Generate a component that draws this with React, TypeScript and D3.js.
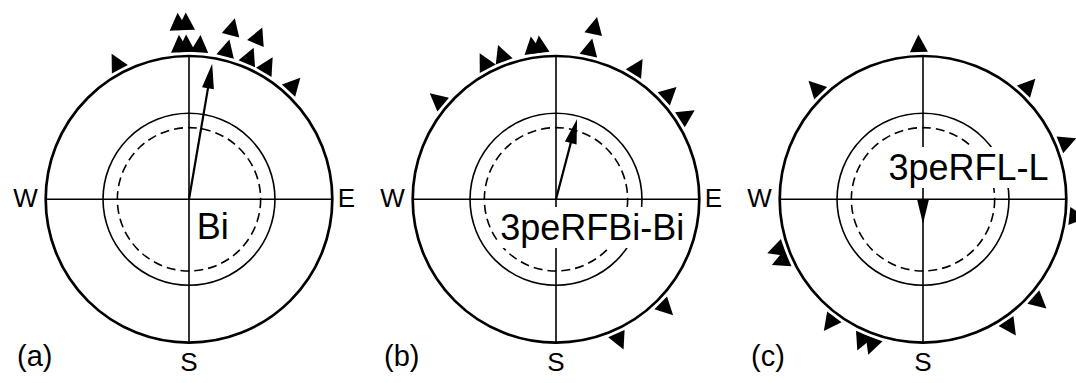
import React, { useEffect, useRef } from "react";
import * as d3 from "d3";

// panel tags and sample names
const panelTags = ["(a)", "(b)", "(c)"];
const sampleNames = ["Bi", "3peRFBi-Bi", "3peRFL-L"];

const bearingsA = [-28, -3.5, -3.5, -1, -1, 4, 14.2, 14.2, 23.1, 23.1, 30.5, 42.5];
const bearingsB = [-50, -27.6, -20.6, -8.8, -6, 12.7, 12.7, 31.7, 47, 57.3, 134.7, 155.8];
const bearingsC = [-1.6, -44, 43, 68.3, 96.5, 131.5, 145.7, 199.4, 203.5, 217, 246.5, 250.9];

// mean vector: direction (deg) and resultant length (0..1)
const meanDirections = [9.7, 14.7, 180];
const meanLengths = [0.96, 0.58, 0.17];

// reference rings (fraction of outer radius)
const solidRing = 0.6;
const dashedRing = 0.5;

const compassLabels = ["W", "E", "S"];

// layout
const width = 1076;
const height = 383;
const R = 143.3;
const cy = 199.3;
const nameOffsets = [
  [7.7, 40],
  [-55.8, 40.7],
  [-34.5, -19.3],
];

const App = () => {
  const svgRef = useRef(null);

  useEffect(() => {
    const svg = d3.select(svgRef.current);
    svg.selectAll("*").remove();

    const xPanel = d3.scalePoint().domain(panelTags).range([189, 923]);
    const rScale = d3.scaleLinear().domain([0, 1]).range([0, R]);
    const allBearings = [bearingsA, bearingsB, bearingsC];
    const font = "'Liberation Sans', Arial, Helvetica, sans-serif";

    panelTags.forEach((tag, i) => {
      const cx = xPanel(tag);
      const g = svg.append("g").attr("transform", `translate(${cx},${cy})`);

      // outer circle
      g.append("circle")
        .attr("r", rScale(1))
        .attr("fill", "none")
        .attr("stroke", "#000")
        .attr("stroke-width", 2.7);

      // crosshair
      g.append("line")
        .attr("x1", -rScale(1)).attr("x2", rScale(1))
        .attr("y1", 0).attr("y2", 0)
        .attr("stroke", "#000").attr("stroke-width", 1.6);
      g.append("line")
        .attr("x1", 0).attr("x2", 0)
        .attr("y1", -rScale(1)).attr("y2", rScale(1))
        .attr("stroke", "#000").attr("stroke-width", 1.6);

      // rings
      g.append("circle")
        .attr("r", rScale(solidRing))
        .attr("fill", "none")
        .attr("stroke", "#000")
        .attr("stroke-width", 1.6);
      g.append("circle")
        .attr("r", rScale(dashedRing))
        .attr("fill", "none")
        .attr("stroke", "#000")
        .attr("stroke-width", 1.6)
        .attr("stroke-dasharray", "9,5");

      // sample name with white box behind it
      const [ndx, ndy] = nameOffsets[i];
      const boxLayer = g.append("g");
      const name = g.append("text")
        .attr("x", ndx)
        .attr("y", ndy)
        .attr("font-family", font)
        .attr("font-size", 36)
        .attr("fill", "#000")
        .text(sampleNames[i]);
      const bb = name.node().getBBox();
      boxLayer.append("rect")
        .attr("x", bb.x - 2)
        .attr("y", bb.y)
        .attr("width", bb.width + 4)
        .attr("height", bb.height)
        .attr("fill", "#fff");

      // mean vector arrow
      const len = rScale(meanLengths[i]);
      const headLen = Math.min(25, len);
      const arrow = g.append("g").attr("transform", `rotate(${meanDirections[i]})`);
      if (len - headLen > 0) {
        arrow.append("line")
          .attr("x1", 0).attr("y1", 0)
          .attr("x2", 0).attr("y2", -(len - headLen + 2))
          .attr("stroke", "#000").attr("stroke-width", 2.2);
      }
      arrow.append("path")
        .attr("d", `M0,${-len} L6,${-(len - headLen)} L-6,${-(len - headLen)} Z`)
        .attr("fill", "#000");

      // observation triangles, stacked outward when bearings repeat
      const bearings = allBearings[i];
      const stackIndex = bearings.map((b, k) => bearings.slice(0, k).filter((o) => o === b).length);
      g.selectAll("path.obs")
        .data(bearings)
        .join("path")
        .attr("class", "obs")
        .attr("transform", (d) => `rotate(${d})`)
        .attr("d", (d, k) => {
          const rb = rScale(1) + 4 + stackIndex[k] * 22;
          return `M-9,${-rb} L9,${-rb} L0,${-(rb + 17.5)} Z`;
        })
        .attr("fill", "#000");

      // compass labels (E of the last panel falls outside the frame)
      g.append("text")
        .attr("x", -rScale(1) - 8)
        .attr("y", 8)
        .attr("text-anchor", "end")
        .attr("font-family", font)
        .attr("font-size", 26)
        .text(compassLabels[0]);
      if (cx + rScale(1) + 22 < width) {
        g.append("text")
          .attr("x", rScale(1) + 5.5)
          .attr("y", 8)
          .attr("font-family", font)
          .attr("font-size", 26)
          .text(compassLabels[1]);
      }
      g.append("text")
        .attr("x", 0)
        .attr("y", rScale(1) + 28.5)
        .attr("text-anchor", "middle")
        .attr("font-family", font)
        .attr("font-size", 26)
        .text(compassLabels[2]);

      // panel tag
      g.append("text")
        .attr("x", -172)
        .attr("y", 167)
        .attr("font-family", font)
        .attr("font-size", 29)
        .text(tag);
    });
  }, []);

  return (
    <svg
      ref={svgRef}
      width={width}
      height={height}
      style={{ position: "absolute", left: 0, top: 0, background: "#fff" }}
    ></svg>
  );
};

export default App;
